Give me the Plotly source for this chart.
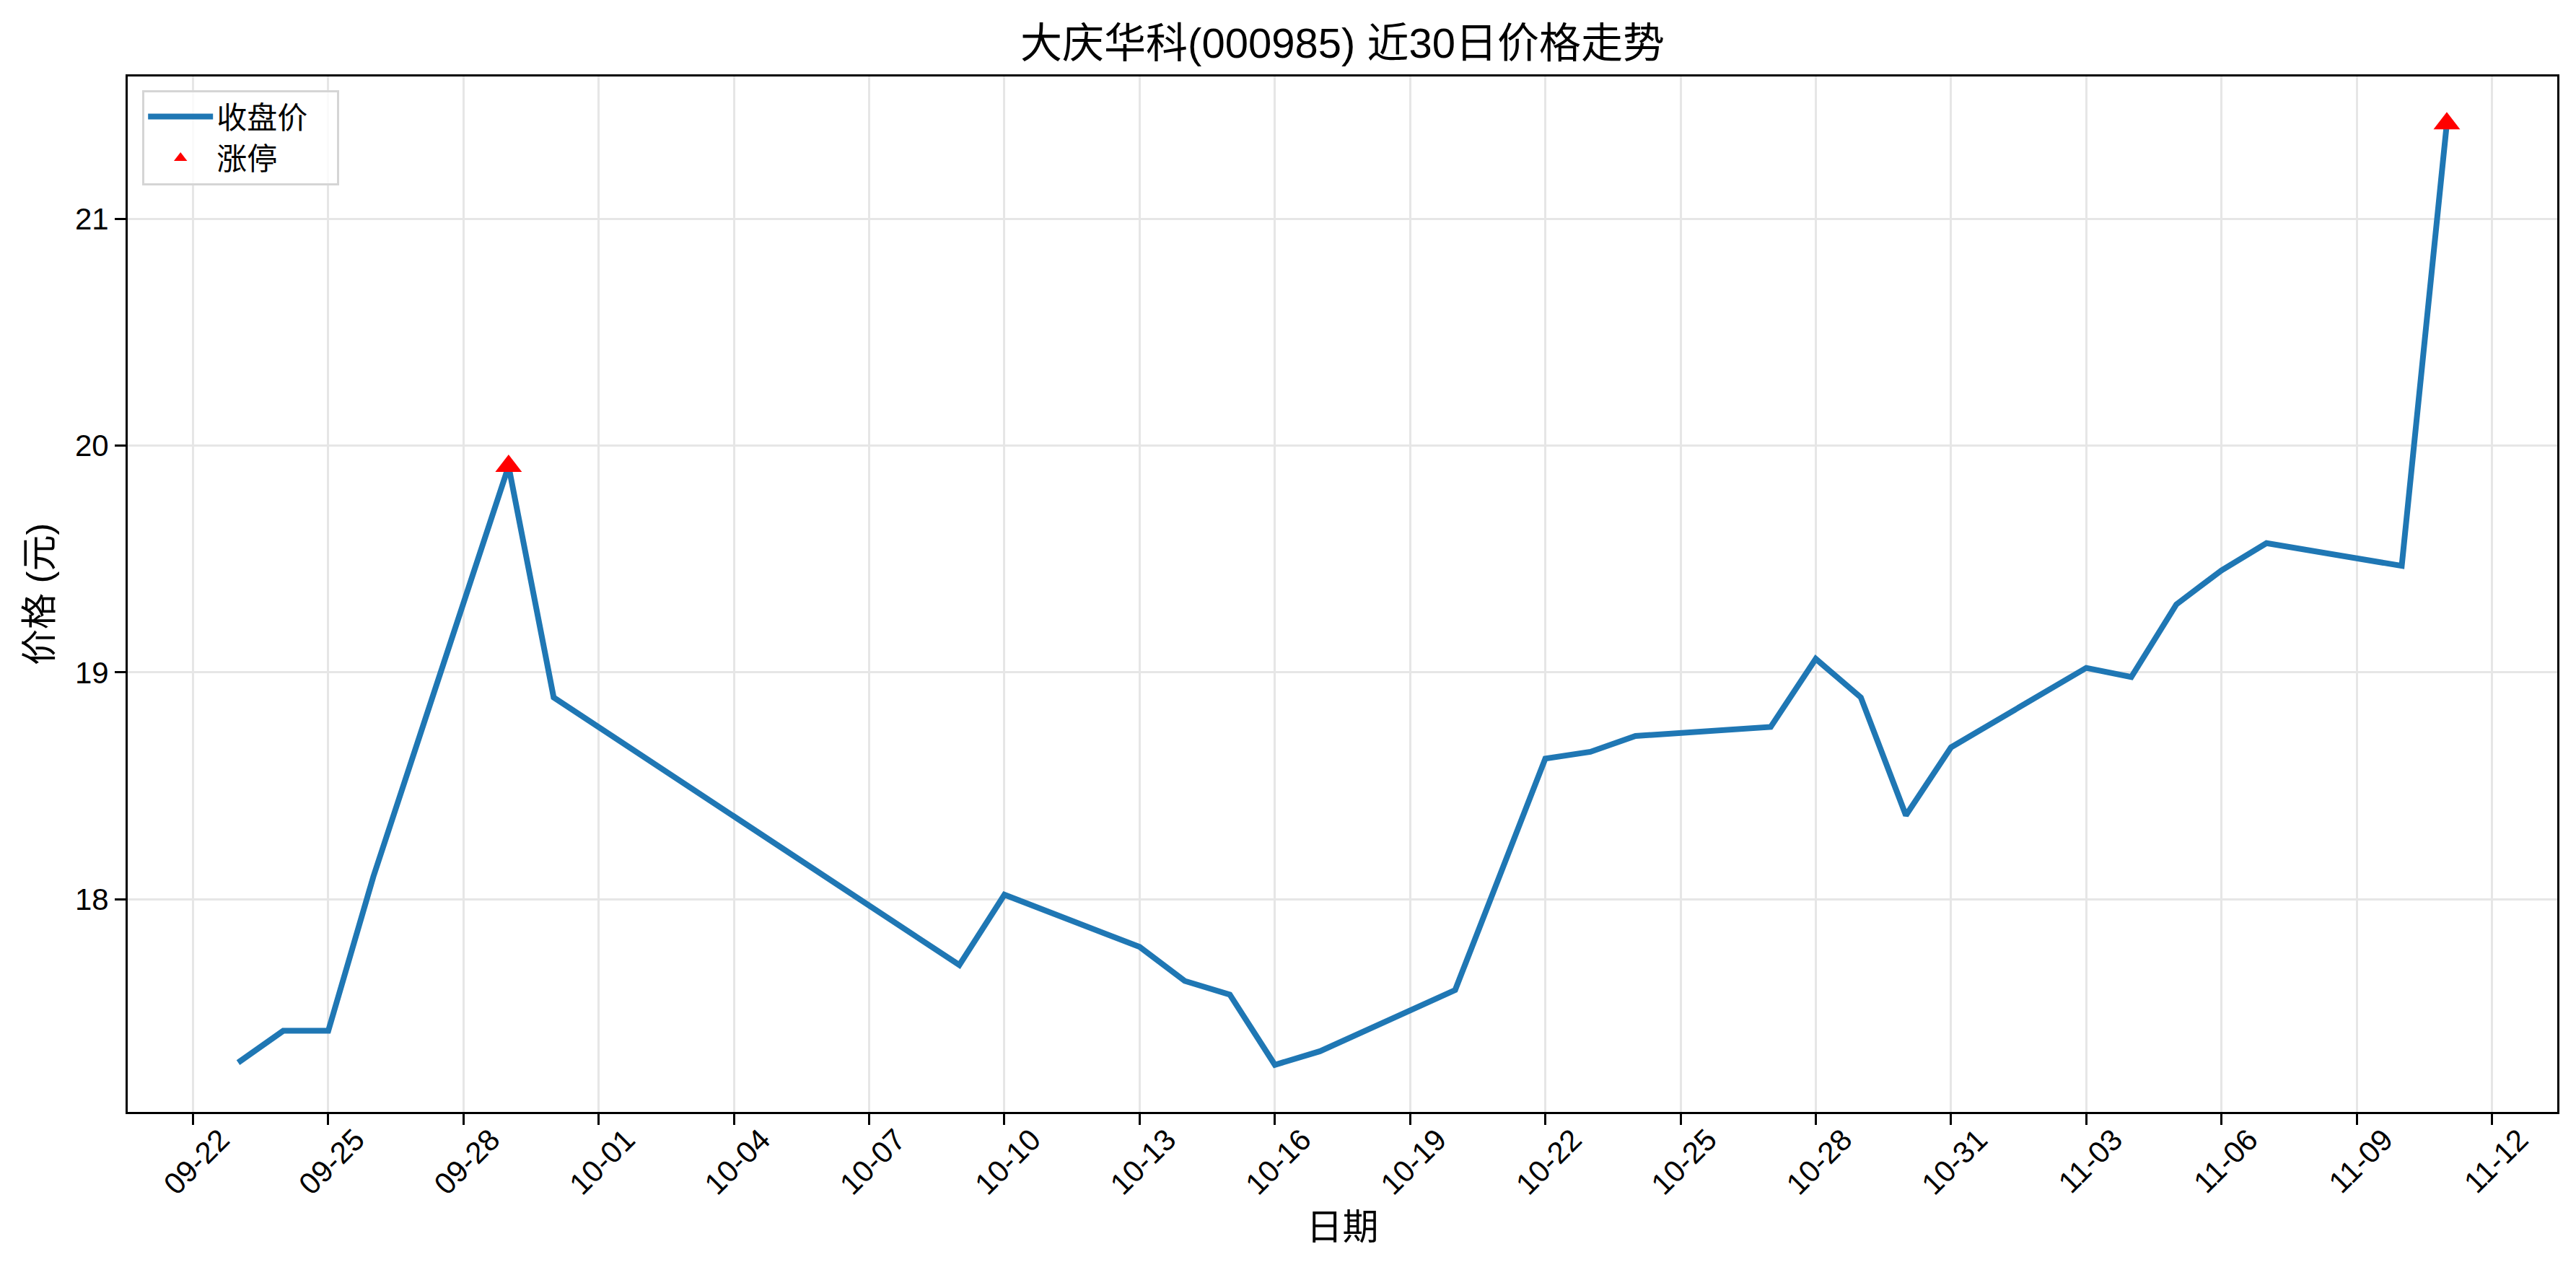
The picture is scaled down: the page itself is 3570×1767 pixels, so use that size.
import pandas as pd
import plotly.graph_objects as go

dates = ["2025-09-23", "2025-09-24", "2025-09-25", "2025-09-26", "2025-09-29", "2025-09-30",
         "2025-10-09", "2025-10-10", "2025-10-13", "2025-10-14", "2025-10-15", "2025-10-16",
         "2025-10-17", "2025-10-20", "2025-10-22", "2025-10-23", "2025-10-24", "2025-10-27",
         "2025-10-28", "2025-10-29", "2025-10-30", "2025-10-31", "2025-11-03", "2025-11-04",
         "2025-11-05", "2025-11-06", "2025-11-07", "2025-11-10", "2025-11-11"]
close = [17.28, 17.42, 17.42, 18.10, 19.91, 18.89,
         17.71, 18.02, 17.79, 17.64, 17.58, 17.27,
         17.33, 17.60, 18.62, 18.65, 18.72, 18.76,
         19.06, 18.89, 18.37, 18.67, 19.02, 18.98,
         19.30, 19.45, 19.57, 19.47, 21.42]
limit_up_dates = ["2025-09-29", "2025-11-11"]
limit_up_prices = [19.91, 21.42]

title_text = "大庆华科(000985) 近30日价格走势"
x_label = "日期"
y_label = "价格 (元)"
line_name = "收盘价"
marker_name = "涨停"

x = pd.to_datetime(dates)
xl = pd.to_datetime(limit_up_dates)
tick_dates = pd.date_range("2025-09-22", "2025-11-12", freq="3D")
tick_text = [d.strftime("%m-%d") for d in tick_dates]

span = x.max() - x.min()
x_range = [x.min() - span * 0.05, x.max() + span * 0.05]
y_span = max(close) - min(close)
y_range = [min(close) - 0.05 * y_span, max(close) + 0.05 * y_span]

font_family = "Liberation Sans, Arial, Noto Sans CJK SC, sans-serif"
pad = "\u00a0\u00a0\u00a0"

fig = go.Figure()
fig.add_trace(go.Scatter(
    x=x, y=close, mode="lines", name=line_name + pad,
    line=dict(color="#1f77b4", width=8),
))
fig.add_trace(go.Scatter(
    x=xl, y=limit_up_prices, mode="markers", name=marker_name,
    marker=dict(symbol="triangle-up", color="red", size=32, line=dict(width=0)),
))

axis_common = dict(
    showline=True, linecolor="black", linewidth=3, mirror=True,
    ticks="outside", ticklen=15, tickwidth=3, tickcolor="black",
    showgrid=True, gridcolor="#e6e6e6", gridwidth=3,
    zeroline=False,
    tickfont=dict(size=42, color="black", family=font_family),
)

fig.update_layout(
    width=3570, height=1767,
    margin=dict(l=169, r=34, t=98, b=234),
    paper_bgcolor="white", plot_bgcolor="white",
    font=dict(family=font_family, color="black"),
    title=dict(text=title_text, xref="paper", x=0.5, xanchor="center",
               y=1 - 52 / 1767, yanchor="middle",
               font=dict(size=58, color="black", family=font_family)),
    showlegend=True,
    legend=dict(x=0.006, y=0.987, xanchor="left", yanchor="top",
                bgcolor="rgba(255,255,255,0.8)", bordercolor="#d5d5d5", borderwidth=3,
                font=dict(size=42, color="black", family=font_family),
                itemwidth=90, tracegroupgap=0),
)
fig.update_xaxes(
    **axis_common,
    type="date", range=x_range,
    tickmode="array", tickvals=tick_dates, ticktext=tick_text,
    tickangle=-45, ticklabelshift=38, ticklabelstandoff=-21,
    title=dict(text=x_label, font=dict(size=50, color="black", family=font_family), standoff=20),
    automargin=False,
)
fig.update_yaxes(
    **axis_common,
    range=y_range,
    tickmode="array", tickvals=[18, 19, 20, 21], ticktext=["18", "19", "20", "21"],
    title=dict(text=y_label, font=dict(size=50, color="black", family=font_family), standoff=16),
    automargin=False,
)

fig.write_html("out.html")
